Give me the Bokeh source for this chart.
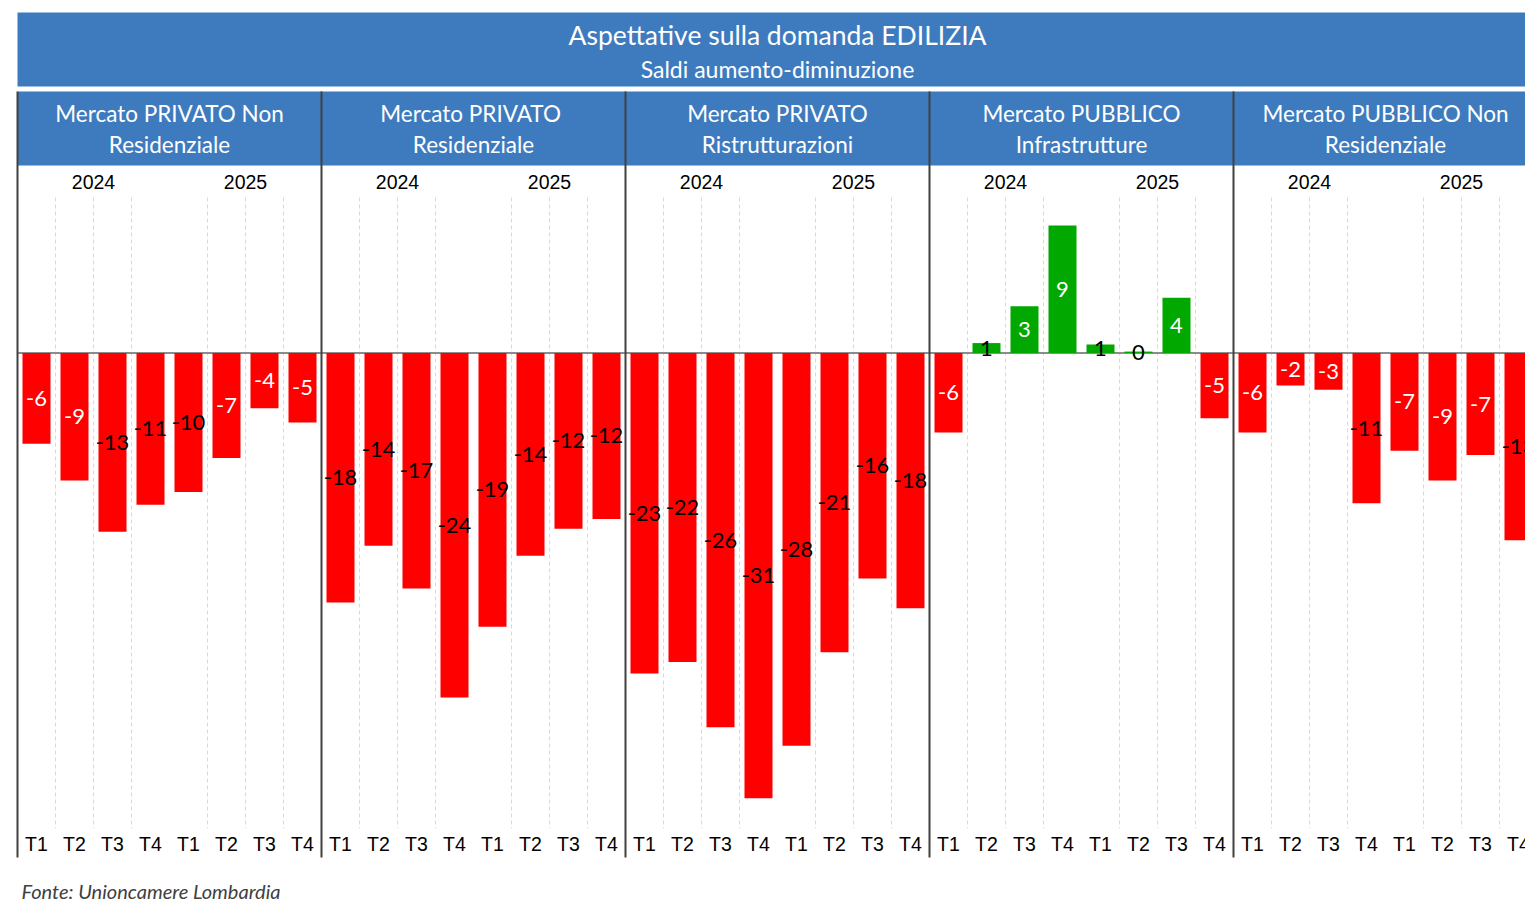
from bokeh.plotting import figure
from bokeh.models import Range1d, ColumnDataSource
from bokeh.embed import file_html
from bokeh.resources import INLINE
from bokeh.core.properties import value

# ---------------- data ----------------
title = "Aspettative sulla domanda EDILIZIA"
subtitle = "Saldi aumento-diminuzione"
source_note = "Fonte: Unioncamere Lombardia"
panel_line1 = ["Mercato PRIVATO Non", "Mercato  PRIVATO", "Mercato PRIVATO",
               "Mercato PUBBLICO", "Mercato PUBBLICO Non"]
panel_line2 = ["Residenziale", "Residenziale", "Ristrutturazioni",
               "Infrastrutture", "Residenziale"]
years = ["2024", "2025"]
quarters = ["T1", "T2", "T3", "T4"]

privato_non_res = [-6.4, -9.0, -12.6, -10.7, -9.8, -7.4, -3.9, -4.9]
privato_res = [-17.6, -13.6, -16.6, -24.3, -19.3, -14.3, -12.4, -11.7]
privato_ristr = [-22.6, -21.8, -26.4, -31.4, -27.7, -21.1, -15.9, -18.0]
pubblico_infra = [-5.6, 0.7, 3.3, 9.0, 0.6, 0.1, 3.9, -4.6]
pubblico_non_res = [-5.6, -2.3, -2.6, -10.6, -6.9, -9.0, -7.2, -13.2]
series = [privato_non_res, privato_res, privato_ristr, pubblico_infra, pubblico_non_res]

# ---------------- layout / style ----------------
W, H = 1525, 910
S = 14.18          # px per unit
SLOT = 38.0        # px per bar slot
ZERO_PY = 352.5    # page y of zero line
LEFT_PX = 17.0     # page x of chart left edge
BLUE = "#3E7BBE"
RED = "#FF0000"
GREEN = "#00A800"


def X(px):
    return (px - LEFT_PX) / SLOT


def Y(py):
    return (ZERO_PY - py) / S


x0 = X(0)
y_top = Y(0)
p = figure(width=W, height=H, output_backend="svg", toolbar_location=None,
           x_range=Range1d(x0, x0 + W / SLOT), y_range=Range1d(y_top - H / S, y_top),
           x_axis_location=None, y_axis_location=None, min_border=0)
p.grid.visible = False
p.outline_line_color = None
p.background_fill_color = "white"
p.border_fill_color = "white"

n_panels = len(series)
per = len(years) * len(quarters)
right_end = X(1600)

# title band and header band
p.quad(left=[0], right=[right_end], top=[Y(12)], bottom=[Y(86)], fill_color=BLUE, line_color=None)
p.quad(left=[0], right=[right_end], top=[Y(91)], bottom=[Y(165)], fill_color=BLUE, line_color=None)
p.text(x=[n_panels * per / 2], y=[Y(34)], text=[title], text_align="center", text_baseline="middle",
       text_color="white", text_font=value("Lato"), text_font_size=value("26.5px"))
p.text(x=[n_panels * per / 2], y=[Y(68)], text=[subtitle], text_align="center", text_baseline="middle",
       text_color="white", text_font=value("Lato"), text_font_size=value("23px"))

centers = [i * per + per / 2 for i in range(n_panels)]
p.text(x=centers, y=[Y(113)] * n_panels, text=panel_line1, text_align="center", text_baseline="middle",
       text_color="white", text_font=value("Lato"), text_font_size=value("22.5px"))
p.text(x=centers, y=[Y(144)] * n_panels, text=panel_line2, text_align="center", text_baseline="middle",
       text_color="white", text_font=value("Lato"), text_font_size=value("22.5px"))

# year labels
yx, yt = [], []
for i in range(n_panels):
    for j, yr in enumerate(years):
        yx.append(i * per + j * len(quarters) + len(quarters) / 2)
        yt.append(yr)
p.text(x=yx, y=[Y(181)] * len(yx), text=yt, text_align="center", text_baseline="middle",
       text_color="#000000", text_font=value("Liberation Sans"), text_font_size=value("19.5px"))

# dashed gridlines (between quarters within a year)
gx = []
for i in range(n_panels):
    for k in range(1, per):
        if k % len(quarters) != 0:
            gx.append(i * per + k)
p.segment(x0=gx, x1=gx, y0=[Y(197)] * len(gx), y1=[Y(828)] * len(gx),
          line_color="#D9D9D9", line_width=1, line_dash="4 3")

# zero line
p.segment(x0=[0], x1=[right_end], y0=[0], y1=[0], line_color="#8C8C8C", line_width=2)

# bars
bx, btop, bbot, bcol, lx, ly, lt, lc = [], [], [], [], [], [], [], []
for i, vals in enumerate(series):
    for k, v in enumerate(vals):
        cx = i * per + k + 0.5
        bx.append(cx)
        btop.append(max(v, 0))
        bbot.append(min(v, 0))
        bcol.append(GREEN if v > 0 else RED)
        lab = int(round(v))
        lx.append(cx)
        ly.append(v / 2)
        lt.append(str(lab))
        lc.append("#000000" if (abs(lab) >= 10 or abs(lab) <= 1) else "#FFFFFF")
src = ColumnDataSource(dict(x=bx, top=btop, bottom=bbot, color=bcol))
p.vbar(x="x", top="top", bottom="bottom", width=28 / SLOT, fill_color="color", line_color=None, source=src)

lsrc = ColumnDataSource(dict(x=lx, y=ly, text=lt, color=lc))
p.text(x="x", y="y", text="text", text_color="color", source=lsrc, text_align="center",
       text_baseline="middle", text_font=value("Lato"), text_font_size=value("22px"))

# panel separators
sx = [i * per for i in range(n_panels)]
p.segment(x0=sx, x1=sx, y0=[Y(91)] * n_panels, y1=[Y(857)] * n_panels, line_color="#404040", line_width=2)

# quarter labels
qx, qt = [], []
for i in range(n_panels):
    for k in range(per):
        qx.append(i * per + k + 0.5)
        qt.append(quarters[k % len(quarters)])
p.text(x=qx, y=[Y(843)] * len(qx), text=qt, text_align="center", text_baseline="middle",
       text_color="#000000", text_font=value("Liberation Sans"), text_font_size=value("19.5px"))

# source note
p.text(x=[X(21)], y=[Y(890)], text=[source_note], text_align="left", text_baseline="middle",
       text_color="#404040", text_font=value("Lato"), text_font_style="italic",
       text_font_size=value("20px"))

open("out.html", "w").write(file_html(p, INLINE))
